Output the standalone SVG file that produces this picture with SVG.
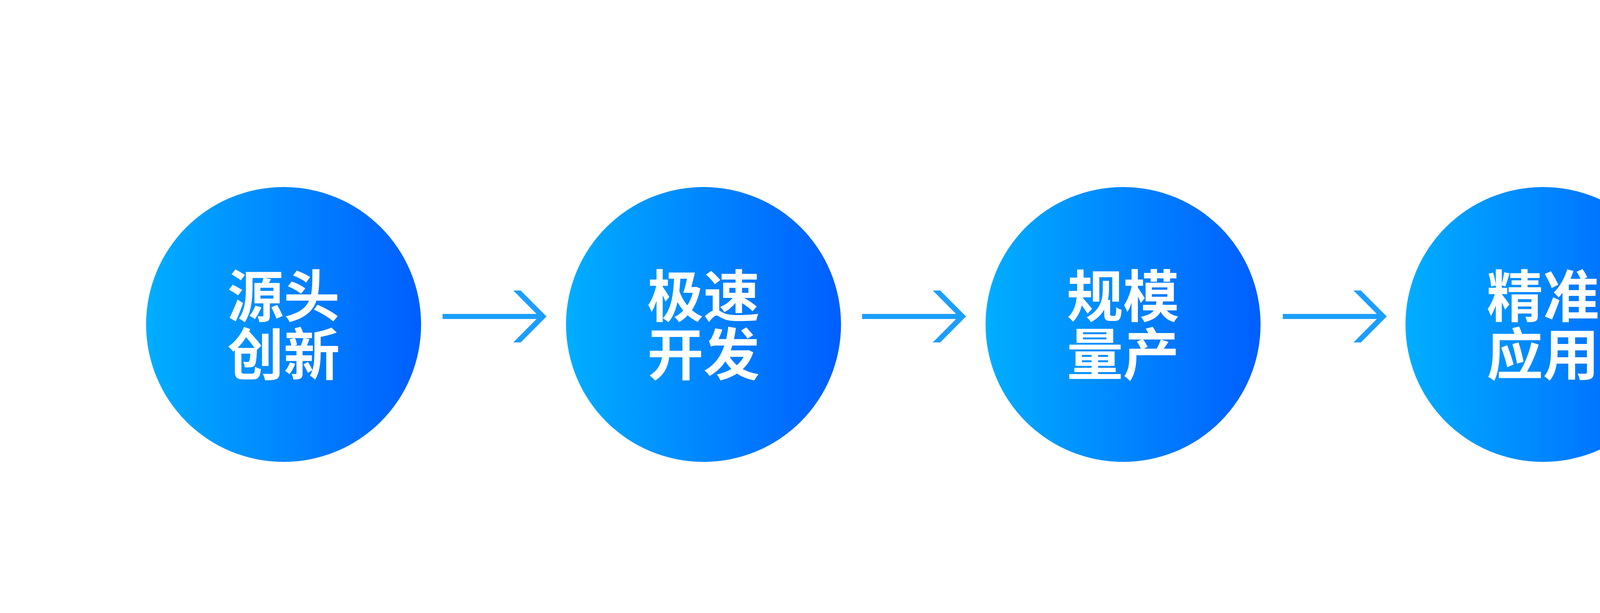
<svg xmlns="http://www.w3.org/2000/svg" width="4688" height="1570" viewBox="0 0 4688 1570">
  <defs>
    <linearGradient id="g" x1="0" y1="0" x2="1" y2="0">
      <stop offset="0" stop-color="#00AEFF"/>
      <stop offset="1" stop-color="#005EFF"/>
    </linearGradient>
    <style>
      .c { fill: url(#g); }
      .t { fill: #FFFFFF; font-family: "Noto Sans CJK SC", "Noto Sans", sans-serif; font-weight: 700; font-size: 144px; text-anchor: middle; }
      .a { fill: #1C9EFF; }
    </style>
  </defs>
  <rect width="4688" height="1570" fill="#FFFFFF"/>
  <g id="node1">
    <circle class="c" cx="726" cy="831" r="352"/>
    <text class="t"><tspan x="726" y="812">源头</tspan><tspan x="726" y="961">创新</tspan></text>
  </g>
  <g id="node2">
    <circle class="c" cx="1801" cy="831" r="352"/>
    <text class="t"><tspan x="1801" y="812">极速</tspan><tspan x="1801" y="961">开发</tspan></text>
  </g>
  <g id="node3">
    <circle class="c" cx="2875" cy="831" r="352"/>
    <text class="t"><tspan x="2875" y="812">规模</tspan><tspan x="2875" y="961">量产</tspan></text>
  </g>
  <g id="node4">
    <circle class="c" cx="3950" cy="831" r="352"/>
    <text class="t"><tspan x="3950" y="812">精准</tspan><tspan x="3950" y="961">应用</tspan></text>
  </g>
  <g id="connectors">
    <g>
      <rect class="a" x="1133" y="804" width="255" height="13"/>
      <polygon class="a" points="1314,744 1333,744 1399,810.5 1333,877 1314,877 1380,810.5"/>
    </g>
    <g transform="translate(1074,0)">
      <rect class="a" x="1133" y="804" width="255" height="13"/>
      <polygon class="a" points="1314,744 1333,744 1399,810.5 1333,877 1314,877 1380,810.5"/>
    </g>
    <g transform="translate(2151,0)">
      <rect class="a" x="1133" y="804" width="255" height="13"/>
      <polygon class="a" points="1314,744 1333,744 1399,810.5 1333,877 1314,877 1380,810.5"/>
    </g>
  </g>
</svg>
